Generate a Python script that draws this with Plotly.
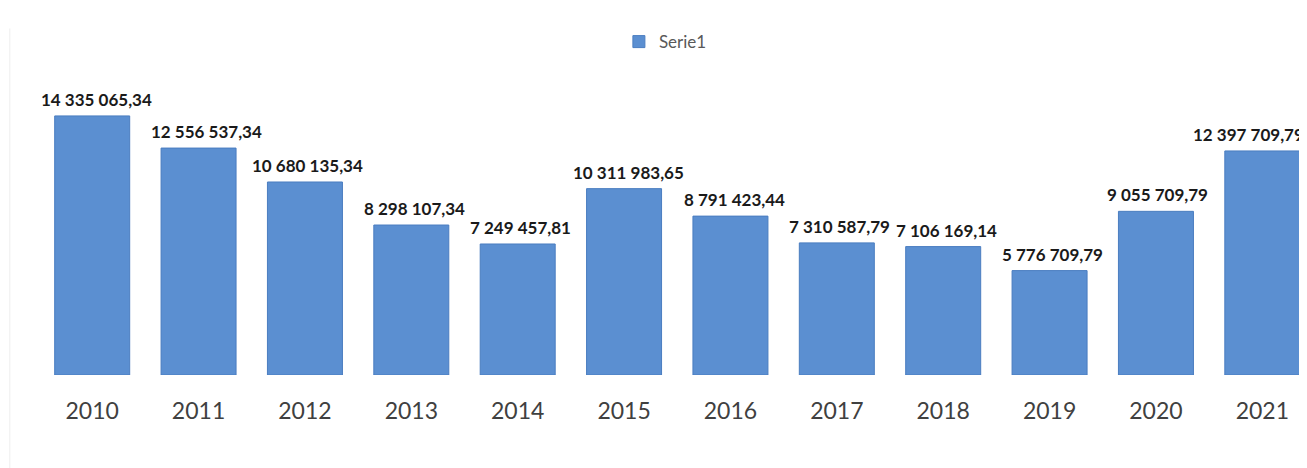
import plotly.graph_objects as go

years = ["2010", "2011", "2012", "2013", "2014", "2015", "2016", "2017", "2018", "2019", "2020", "2021"]
values = [14335065.34, 12556537.34, 10680135.34, 8298107.34, 7249457.81, 10311983.65,
          8791423.44, 7310587.79, 7106169.14, 5776709.79, 9055709.79, 12397709.79]
series_name = "Serie1"

labels = [f"{v:,.2f}".replace(",", " ").replace(".", ",") for v in values]
label_shift = [4, 8, 3, 3, 3, 4, 4, 3, 3, 3, 2, -14]

fig = go.Figure()
fig.add_trace(go.Bar(
    x=years, y=values, name=series_name,
    marker=dict(color="#5b8fd1", line=dict(color="#4a7dc0", width=1)),
    showlegend=True,
))
for i, (v, lab, dx) in enumerate(zip(values, labels, label_shift)):
    fig.add_annotation(x=i, y=v, xref="x", yref="y", text=f"<b>{lab}</b>", showarrow=False,
                       xanchor="center", yanchor="bottom", yshift=4, xshift=dx,
                       font=dict(family="Lato", size=17, color="#1a1a1a"))

fig.update_layout(
    width=1299, height=460,
    margin=dict(l=31, r=0, t=52, b=93, autoexpand=False),
    paper_bgcolor="white", plot_bgcolor="white",
    bargap=0.295,
    font=dict(family="Lato"),
    showlegend=True,
    legend=dict(orientation="h", x=0.494, xanchor="center", y=1.057, yanchor="middle",
                font=dict(size=17, color="#595959", family="Lato")),
    xaxis=dict(type="category", range=[-0.5, 11.42], showgrid=False, showline=False,
               zeroline=False, ticks="", tickfont=dict(size=23, color="#404040", family="Lato"),
               ticklabelstandoff=20, automargin=False),
    yaxis=dict(range=[0, 17.43e6], visible=False, showgrid=False, automargin=False),
)
fig.add_shape(type="line", xref="paper", yref="paper", x0=-0.023, x1=-0.023, y0=-0.3, y1=1.1,
              line=dict(color="#eeeeee", width=1))

fig.write_html("out.html")
